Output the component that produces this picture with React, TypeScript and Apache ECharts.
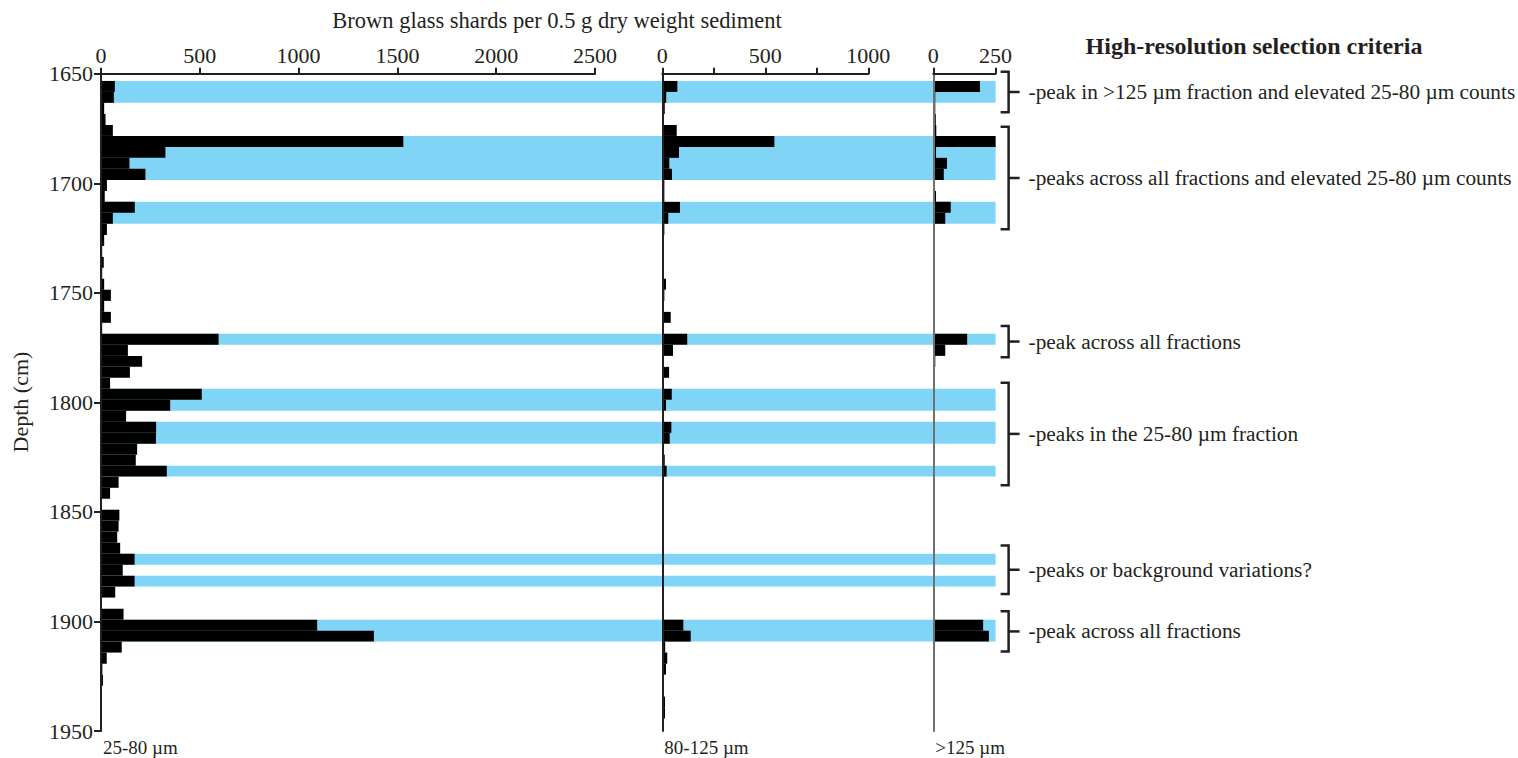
import React, { useEffect, useRef } from "react";
import * as echarts from "echarts";

// Top depth (cm) of each 5 cm sample interval
const depthTop = [
  1653.3, 1658.3, 1663.3, 1668.4, 1673.4, 1678.4, 1683.4, 1688.4, 1693.4, 1698.5,
  1703.5, 1708.5, 1713.5, 1718.5, 1723.6, 1728.6, 1733.6, 1738.6, 1743.6, 1748.6,
  1753.7, 1758.7, 1763.7, 1768.7, 1773.7, 1778.8, 1783.8, 1788.8, 1793.8, 1798.8,
  1803.8, 1808.9, 1813.9, 1818.9, 1823.9, 1828.9, 1833.9, 1839.0, 1844.0, 1849.0,
  1854.0, 1859.0, 1864.1, 1869.1, 1874.1, 1879.1, 1884.1, 1889.1, 1894.2, 1899.2,
  1904.2, 1909.2, 1914.2, 1919.3, 1924.3, 1929.3, 1934.3, 1939.3,
];
const lastSampleBottom = 1944.3;

// Brown glass shards per 0.5 g dry weight sediment, by size fraction
const fine25to80 = [
  70, 65, 16, 23, 60, 1530, 326, 144, 225, 30,
  19, 171, 60, 30, 16, 6, 14, 6, 16, 50,
  16, 50, 6, 595, 136, 208, 146, 46, 510, 350,
  127, 279, 278, 183, 176, 333, 89, 46, 5, 93,
  89, 82, 97, 170, 110, 170, 72, 5, 114, 1094,
  1381, 105, 29, 7, 10, 3, 3, 3,
];
const medium80to125 = [
  73, 19, 12, 8, 70, 544, 81, 34, 47, 10,
  10, 86, 29, 10, 6, 4, 8, 4, 18, 10,
  4, 41, 4, 121, 52, 3, 33, 3, 46, 18,
  2, 44, 36, 4, 12, 21, 6, 4, 2, 4,
  3, 3, 3, 4, 3, 3, 2, 2, 3, 102,
  138, 14, 24, 18, 8, 6, 13, 13,
];
const coarseOver125 = [
  187, 8, 8, 10, 12, 250, 11, 55, 42, 4,
  11, 70, 48, 2, 0, 0, 0, 0, 0, 0,
  0, 0, 0, 136, 48, 8, 5, 0, 0, 0,
  0, 0, 0, 0, 0, 4, 0, 0, 0, 0,
  0, 0, 0, 0, 0, 0, 0, 0, 0, 200,
  223, 5, 4, 0, 0, 0, 0, 0,
];

// Intervals selected for high-resolution work
const highlightTop = [1653.3, 1678.4, 1708.5, 1768.7, 1793.8, 1808.9, 1828.9, 1869.1, 1879.1, 1899.2];
const highlightBottom = [1663.3, 1698.5, 1718.5, 1773.7, 1803.8, 1818.9, 1833.9, 1874.1, 1884.1, 1909.2];

// Selection criteria brackets
const bracketTop = [1649.1, 1674.2, 1765.1, 1791.0, 1865.3, 1895.4];
const bracketBottom = [1667.6, 1721.0, 1779.4, 1837.8, 1887.5, 1913.7];
const criteria = [
  "-peak in >125 \u00b5m fraction and elevated 25-80 \u00b5m counts",
  "-peaks across all fractions and elevated 25-80 \u00b5m counts",
  "-peak across all fractions",
  "-peaks in the 25-80 \u00b5m fraction",
  "-peaks or background variations?",
  "-peak across all fractions",
];

const fractionNames = ["25-80 \u00b5m", "80-125 \u00b5m", ">125 \u00b5m"];
const xMax = [2500, 1000, 250];
const xStep = [500, 250, 250];
const xLabelStep = [500, 500, 250];
const depthMin = 1650;
const depthMax = 1950;
const depthStep = 50;

const FONT = "'Liberation Serif', 'Times New Roman', serif";
const INK = "#231f20";
const CYAN = "#80d5f7";

const sampleBottom = (i: number) =>
  i < depthTop.length - 1 ? depthTop[i + 1] : lastSampleBottom;

export default function App() {
  const ref = useRef<HTMLDivElement>(null);

  useEffect(() => {
    if (!ref.current) return;
    const chart = echarts.init(ref.current, undefined, { renderer: "svg" });

    const gridTop = 73.7;
    const gridHeight = 657.3;
    const grids = [
      { left: 101, top: gridTop, width: 494, height: gridHeight },
      { left: 662.3, top: gridTop, width: 206, height: gridHeight },
      { left: 933.3, top: gridTop, width: 62.3, height: gridHeight },
      { left: 101, top: gridTop, width: 894.6, height: gridHeight },
    ];

    const yAxisBase = {
      type: "value" as const,
      inverse: true,
      min: depthMin,
      max: depthMax,
      interval: depthStep,
      splitLine: { show: false },
      z: 6,
    };

    const yAxes = [
      {
        ...yAxisBase,
        gridIndex: 0,
        axisLine: { show: true, lineStyle: { color: INK, width: 2 } },
        axisTick: { show: true, length: 7, lineStyle: { color: INK, width: 2 } },
        axisLabel: {
          fontFamily: FONT,
          fontSize: 22,
          color: INK,
          margin: 8,
          formatter: (v: number) => String(v),
        },
      },
      {
        ...yAxisBase,
        gridIndex: 1,
        axisLine: { show: true, lineStyle: { color: INK, width: 2 } },
        axisTick: { show: false },
        axisLabel: { show: false },
      },
      {
        ...yAxisBase,
        gridIndex: 2,
        axisLine: { show: true, lineStyle: { color: "#707070", width: 2 } },
        axisTick: { show: false },
        axisLabel: { show: false },
      },
      { ...yAxisBase, gridIndex: 3, show: false },
    ];

    const xAxes: any[] = [0, 1, 2].map((i) => ({
      type: "value",
      gridIndex: i,
      position: "top",
      min: 0,
      max: xMax[i],
      interval: xStep[i],
      splitLine: { show: false },
      axisLine: { show: true, lineStyle: { color: INK, width: 2 } },
      axisTick: { show: true, length: 6, lineStyle: { color: INK, width: 2 } },
      axisLabel: {
        fontFamily: FONT,
        fontSize: 22,
        color: INK,
        margin: 7,
        showMinLabel: true,
        showMaxLabel: true,
        formatter: (v: number) => (v % xLabelStep[i] === 0 ? String(v) : ""),
      },
      z: 6,
    }));
    xAxes.push({ type: "value", gridIndex: 3, min: 0, max: 1, show: false });

    const barRender = (params: any, api: any) => {
      const v = api.value(0);
      if (!v) return null;
      const p0 = api.coord([0, api.value(1)]);
      const p1 = api.coord([v, api.value(2)]);
      return {
        type: "rect",
        shape: { x: p0[0], y: p0[1], width: p1[0] - p0[0], height: p1[1] - p0[1] },
        style: { fill: "#000" },
      };
    };

    const fractions = [fine25to80, medium80to125, coarseOver125];
    const barSeries = fractions.map((vals, i) => ({
      type: "custom",
      xAxisIndex: i,
      yAxisIndex: i,
      clip: false,
      z: 3,
      renderItem: barRender,
      encode: { x: 0, y: [1, 2] },
      data: vals.map((v, k) => [v, depthTop[k], sampleBottom(k)]),
    }));

    const bandSeries = {
      type: "custom",
      xAxisIndex: 3,
      yAxisIndex: 3,
      z: 1,
      renderItem: (params: any, api: any) => {
        const p0 = api.coord([0, api.value(0)]);
        const p1 = api.coord([1, api.value(1)]);
        return {
          type: "rect",
          shape: { x: p0[0], y: p0[1], width: p1[0] - p0[0], height: p1[1] - p0[1] },
          style: { fill: CYAN },
        };
      },
      encode: { y: [0, 1] },
      data: highlightTop.map((t, i) => [t, highlightBottom[i]]),
    };

    const bracketSeries = {
      type: "custom",
      xAxisIndex: 2,
      yAxisIndex: 2,
      clip: false,
      z: 4,
      renderItem: (params: any, api: any) => {
        const idx = params.dataIndex;
        const y0 = api.coord([0, api.value(0)])[1];
        const y1 = api.coord([0, api.value(1)])[1];
        const cs = params.coordSys;
        const xv = cs.x + cs.width + 13;
        const ym = (y0 + y1) / 2;
        return {
          type: "group",
          children: [
            {
              type: "polyline",
              shape: { points: [[xv - 8, y0], [xv, y0], [xv, y1], [xv - 8, y1]] },
              style: { stroke: INK, lineWidth: 2.5, fill: "none" },
            },
            {
              type: "line",
              shape: { x1: xv, y1: ym, x2: xv + 11, y2: ym },
              style: { stroke: INK, lineWidth: 2.5 },
            },
            {
              type: "text",
              x: xv + 20,
              y: ym,
              style: {
                text: criteria[idx],
                fontFamily: FONT,
                fontSize: 21.3,
                fill: INK,
                align: "left",
                verticalAlign: "middle",
              },
            },
          ],
        };
      },
      encode: { y: [0, 1] },
      data: bracketTop.map((t, i) => [t, bracketBottom[i]]),
    };

    const textStyle = (text: string, size: number, weight = "normal") => ({
      text,
      fontFamily: FONT,
      fontSize: size,
      fontWeight: weight,
      fill: INK,
    });

    const zeroX = [grids[0].left, grids[1].left, grids[2].left];

    chart.setOption({
      animation: false,
      grid: grids,
      xAxis: xAxes,
      yAxis: yAxes,
      series: [bandSeries, ...barSeries, bracketSeries],
      graphic: [
        {
          type: "text",
          x: 557,
          y: 20,
          style: { ...textStyle("Brown glass shards per 0.5 g dry weight sediment", 22.5), align: "center", verticalAlign: "middle" },
        },
        {
          type: "text",
          x: 1254,
          y: 46,
          style: { ...textStyle("High-resolution selection criteria", 24, "bold"), align: "center", verticalAlign: "middle" },
        },
        {
          type: "text",
          x: 20,
          y: 402,
          rotation: Math.PI / 2,
          style: { ...textStyle("Depth (cm)", 22), align: "center", verticalAlign: "middle" },
        },
        ...fractionNames.map((name, i) => ({
          type: "text",
          x: zeroX[i] + 2,
          y: 747,
          style: { ...textStyle(name, 19), align: "left", verticalAlign: "middle" },
        })),
      ],
    });

    return () => chart.dispose();
  }, []);

  return (
    <div
      ref={ref}
      style={{ position: "fixed", left: 0, top: 0, width: 1518, height: 758, background: "#fff" }}
    />
  );
}
